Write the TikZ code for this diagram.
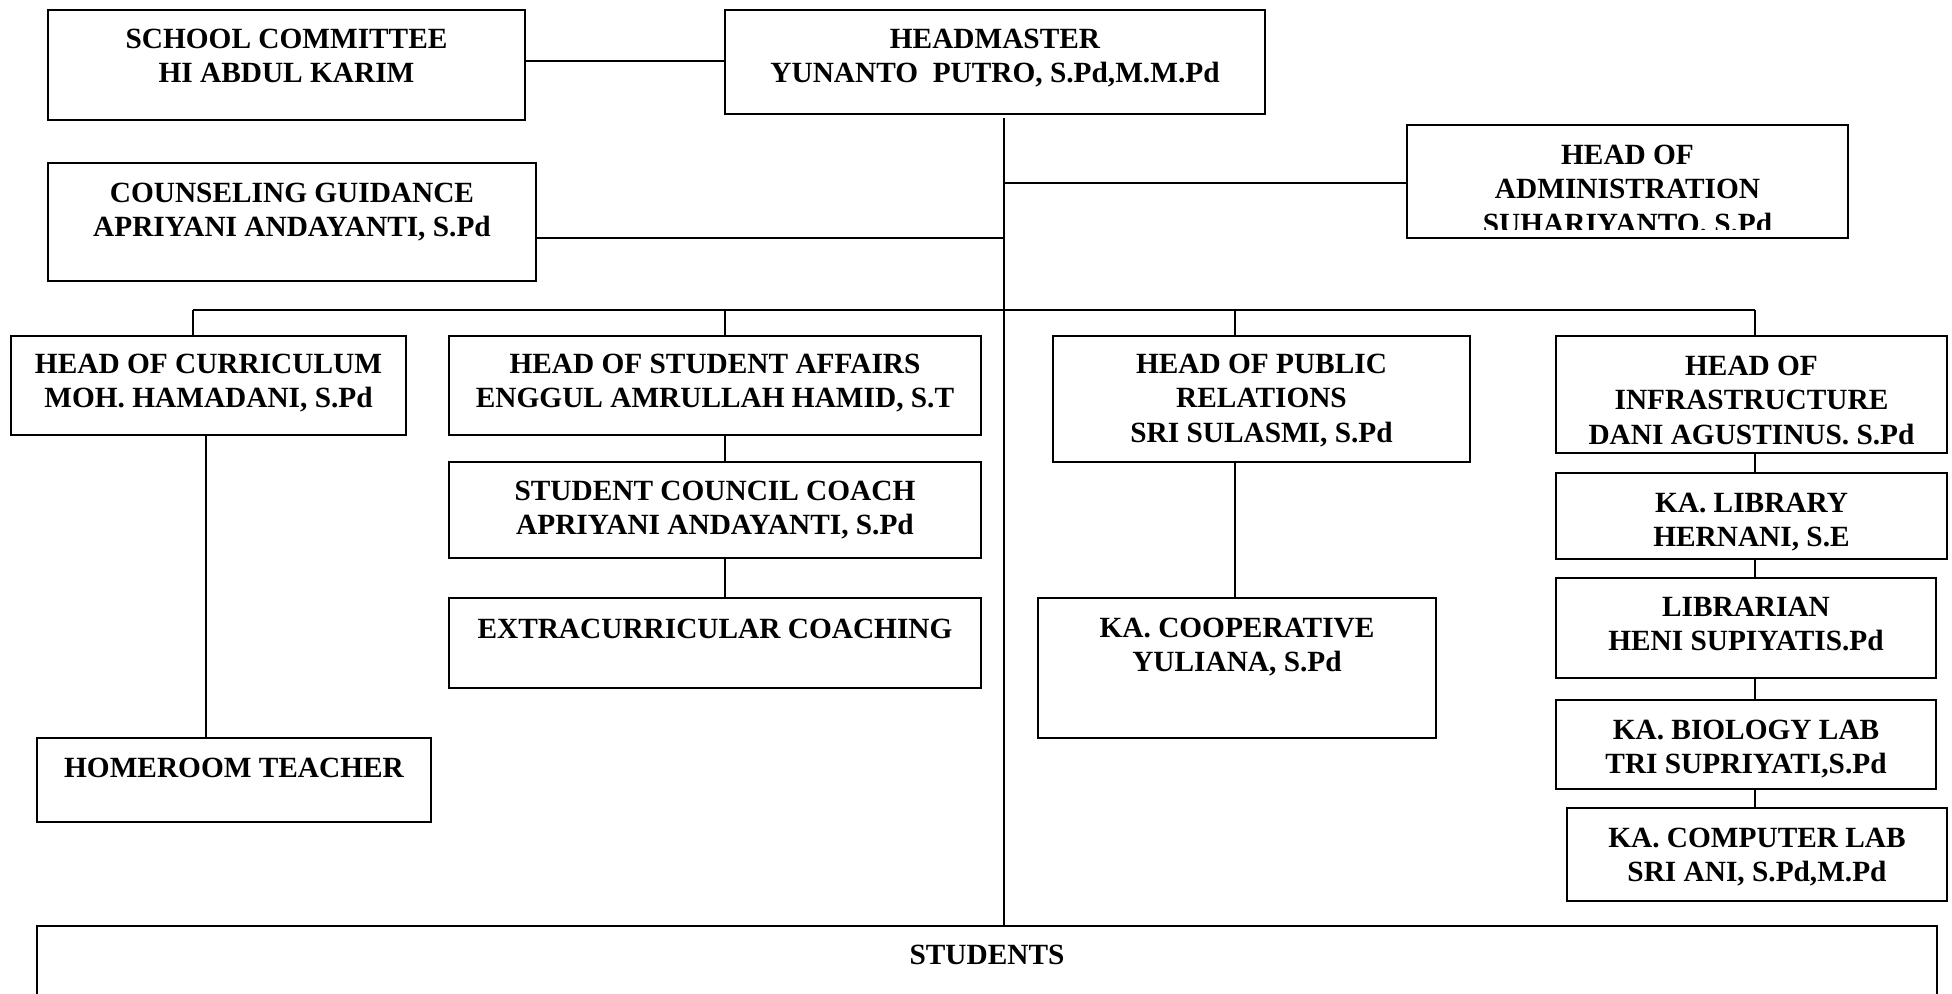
\documentclass[tikz,border=0pt]{standalone}
\usepackage{fontspec}
\setmainfont{Liberation Serif}
\usetikzlibrary{fit}
\tikzset{
  obox/.style={draw, line width=0.45pt, inner sep=0pt, fill=white},
  otxt/.style={anchor=north, align=center, inner sep=0pt, font=\fontsize{8.34}{9.87}\selectfont\bfseries},
  conn/.style={line width=0.42pt}
}
\newcommand\orgbox[7]{%
  \coordinate (#1-nw) at (#2,#3);
  \coordinate (#1-se) at (#4,#5);
  \node[obox, fit=(#1-nw)(#1-se)] (#1) {};
  \node[otxt] (#1-t) at ({(#2+#4)/2},{#6-10}) {#7};
}
\begin{document}
\begin{tikzpicture}[x=0.01cm, y=-0.01cm]
\clip (0,0) rectangle (1952,993);
\useasboundingbox (0,0) rectangle (1952,993);

% boxes
\orgbox{sc}{48}{10}{525}{120}{38}{SCHOOL COMMITTEE\\HI ABDUL KARIM}
\orgbox{hm}{725}{10}{1265}{114}{38}{HEADMASTER\\YUNANTO\ \ PUTRO, S.Pd,M.M.Pd}
\orgbox{cg}{48}{163}{536}{281}{192}{COUNSELING GUIDANCE\\APRIYANI ANDAYANTI, S.Pd}
\coordinate (adm-nw) at (1407,125);
\coordinate (adm-se) at (1848,238);
\node[obox, fit=(adm-nw)(adm-se)] (adm) {};
\begin{scope}
  \clip (1407,125) rectangle (1848,229);
  \node[otxt] (adm-t) at ({(1407+1848)/2},{154-10}) {HEAD OF\\ADMINISTRATION\\SUHARIYANTO. S.Pd};
\end{scope}
\orgbox{cur}{11}{336}{406}{435}{363}{HEAD OF CURRICULUM\\MOH. HAMADANI, S.Pd}
\orgbox{hr}{37}{738}{431}{822}{767}{HOMEROOM TEACHER}
\orgbox{sa}{449}{336}{981}{435}{363}{HEAD OF STUDENT AFFAIRS\\ENGGUL AMRULLAH HAMID, S.T}
\orgbox{scc}{449}{462}{981}{558}{490}{STUDENT COUNCIL COACH\\APRIYANI ANDAYANTI, S.Pd}
\orgbox{ext}{449}{598}{981}{688}{628}{EXTRACURRICULAR COACHING}
\orgbox{pr}{1053}{336}{1470}{462}{363}{HEAD OF PUBLIC\\RELATIONS\\SRI SULASMI, S.Pd}
\orgbox{coop}{1038}{598}{1436}{738}{627}{KA. COOPERATIVE\\YULIANA, S.Pd}
\orgbox{inf}{1556}{336}{1947}{453}{365}{HEAD OF\\INFRASTRUCTURE\\DANI AGUSTINUS. S.Pd}
\orgbox{lib}{1556}{473}{1947}{559}{502}{KA. LIBRARY\\HERNANI, S.E}
\orgbox{libr}{1556}{578}{1936}{678}{606}{LIBRARIAN\\HENI SUPIYATIS.Pd}
\orgbox{bio}{1556}{700}{1936}{789}{729}{KA. BIOLOGY LAB\\TRI SUPRIYATI,S.Pd}
\orgbox{comp}{1567}{808}{1947}{901}{837}{KA. COMPUTER LAB\\SRI ANI, S.Pd,M.Pd}
\orgbox{st}{37}{926}{1937}{1040}{954}{STUDENTS}

% connectors
\coordinate (j1) at (600,61);
\draw[conn] (j1 -| sc.east) -- (j1 -| hm.west);
\coordinate (tt) at (1004,118);
\draw[conn] (tt) -- (tt |- st.north);
\coordinate (ja) at (1004,183);
\draw[conn] (ja) -- (ja -| adm.west);
\coordinate (jc) at (1004,238);
\draw[conn] (jc) -- (jc -| cg.east);
\coordinate (b1) at (193,310);
\coordinate (b2) at (725,310);
\coordinate (b3) at (1235,310);
\coordinate (b4) at (1755,310);
\draw[conn] (b1) -- (b4);
\draw[conn] (b1) -- (b1 |- cur.north);
\draw[conn] (b2) -- (b2 |- sa.north);
\draw[conn] (b3) -- (b3 |- pr.north);
\draw[conn] (b4) -- (b4 |- inf.north);
\coordinate (c1) at (206,0);
\draw[conn] (c1 |- cur.south) -- (c1 |- hr.north);
\draw[conn] (b2 |- sa.south) -- (b2 |- scc.north);
\draw[conn] (b2 |- scc.south) -- (b2 |- ext.north);
\draw[conn] (b3 |- pr.south) -- (b3 |- coop.north);
\draw[conn] (b4 |- inf.south) -- (b4 |- lib.north);
\draw[conn] (b4 |- lib.south) -- (b4 |- libr.north);
\draw[conn] (b4 |- libr.south) -- (b4 |- bio.north);
\draw[conn] (b4 |- bio.south) -- (b4 |- comp.north);
\end{tikzpicture}
\end{document}
